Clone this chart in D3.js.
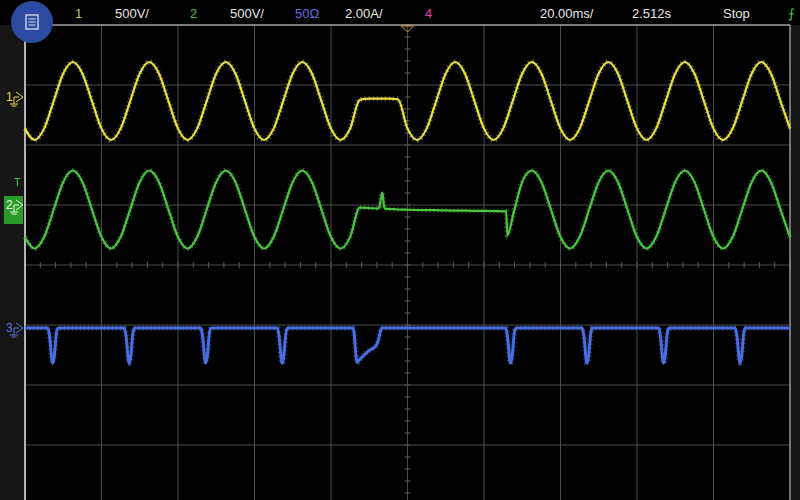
<!DOCTYPE html>
<html><head><meta charset="utf-8">
<script src="https://cdn.jsdelivr.net/npm/d3@7"></script>
<style>body{margin:0;background:#000;overflow:hidden}text{font-family:"Liberation Sans",Arial,sans-serif}</style>
</head><body><svg id="c" width="800" height="500"></svg>
<script>
// ---- data ----
const timeStepMs = 2.5;
const ch1Volts = [-230,-325,-230,0,230,325,230,0, -230,-325,-230,0,230,325,230,0, -230,-325,-230,0,230,325,230,0,
  -230,-325,-230,0,230,325,230,0, -230,-325,-230,10,20,20,20,15, -230,-325,-230,0,230,325,230,0,
  -230,-325,-230,0,230,325,230,0, -230,-325,-230,0,230,325,230,0, -230,-325,-230,0,230,325,230,0,
  -230,-325,-230,0,230,325,230,0, -230];
const ch2Time = [-100,-97.5,-95,-92.5,-90,-87.5,-85,-82.5,-80,-77.5,-75,-72.5,-70,-67.5,-65,-62.5,-60,-57.5,-55,-52.5,
  -50,-47.5,-45,-42.5,-40,-37.5,-35,-32.5,-30,-27.5,-25,-22.5,-20,-17.5,-15,-12.5,-10,-7.5,-6.6,-6.0,-5,-2.5,0,
  2.5,5,7.5,10,12.5,15,17.5,20,22.5,25.8,26.1,27.8,30,32.5,35,37.5,40,42.5,45,47.5,50,52.5,55,57.5,60,62.5,65,67.5,
  70,72.5,75,77.5,80,82.5,85,87.5,90,92.5,95,97.5,100];
const ch2Volts = [-230,-325,-230,0,230,325,230,0, -230,-325,-230,0,230,325,230,0, -230,-325,-230,0,230,325,230,0,
  -230,-325,-230,0,230,325,230,0, -230,-325,-230,15,12,8,140,8,5,0,-2,-4,-5,-6,-8,-9,-10,-11,-12,-13,-15,-215,
  -20,230,325,230,0,-230,-325,-230,0,230,325,230,0,-230,-325,-230,0,230,325,230,0,-230,-325,-230,0,230,325,230,0,-230];
const ch3Time = [-100,-94,-93.6,-92.8,-92.4,-91.7,-91.3,-74,-73.6,-72.8,-72.4,-71.7,-71.3,-54,-53.6,-52.8,-52.4,-51.7,-51.3,
  -34,-33.6,-32.8,-32.4,-31.7,-31.3,-14.2,-13.2,-12.5,-10,-8.3,-7.6,-6.8,
  25.7,26.1,26.9,27.3,28,28.4,45.7,46.1,46.9,47.3,48,48.4,65.7,66.1,66.9,67.3,68,68.4,85.7,86.1,86.9,87.3,88,88.4,100];
const ch3Amps = [0,0,-0.25,-1.17,-1.0,-0.1,0,0,-0.25,-1.17,-1.0,-0.1,0,0,-0.25,-1.17,-1.0,-0.1,0,
  0,-0.25,-1.17,-1.0,-0.1,0,0,-1.15,-1.05,-0.75,-0.6,-0.4,0,
  0,-0.25,-1.17,-1.0,-0.1,0,0,-0.25,-1.17,-1.0,-0.1,0,0,-0.25,-1.17,-1.0,-0.1,0,0,-0.25,-1.17,-1.0,-0.1,0,0];
const headerLabels = [["1","#c8c860",75],["500V/","#e8e8e8",115],["2","#50c040",190],["500V/","#e8e8e8",230],
  ["50Ω","#6a6ae0",295],["2.00A/","#e8e8e8",345],["4","#e040b0",425],["20.00ms/","#e8e8e8",540],
  ["2.512s","#e8e8e8",632],["Stop","#e8e8e8",723]];
// ---- layout ----
const svg = d3.select("#c");
const L=25,R=790,T=25,B=505;
const x = d3.scaleLinear().domain([-100,100]).range([L,R]);
const y = d3.scaleLinear().domain([4,-4]).range([T,B]);
svg.append("rect").attr("width",800).attr("height",500).attr("fill","#000");
svg.append("rect").attr("x",0).attr("y",25).attr("width",L).attr("height",475).attr("fill","#161616");
svg.append("rect").attr("x",R).attr("y",25).attr("width",10).attr("height",475).attr("fill","#161616");
svg.append("rect").attr("x",L).attr("y",T).attr("width",R-L).attr("height",475).attr("fill","#000");
const g = svg.append("g");
d3.range(-100,101,20).forEach(t=>g.append("line").attr("x1",x(t)).attr("x2",x(t)).attr("y1",T).attr("y2",500).attr("stroke","#4a4a4a").attr("stroke-width",1));
d3.range(-4,5,1).forEach(v=>g.append("line").attr("x1",L).attr("x2",R).attr("y1",y(v)).attr("y2",y(v)).attr("stroke","#4a4a4a").attr("stroke-width",1));
d3.range(-100,101,4).forEach(t=>g.append("line").attr("x1",x(t)).attr("x2",x(t)).attr("y1",y(0)-3).attr("y2",y(0)+3).attr("stroke","#5a5a5a"));
d3.range(-4,4.01,0.2).forEach(v=>g.append("line").attr("x1",x(0)-3).attr("x2",x(0)+3).attr("y1",y(v)).attr("y2",y(v)).attr("stroke","#5a5a5a"));
svg.append("line").attr("x1",L).attr("x2",R).attr("y1",T).attr("y2",T).attr("stroke","#d0d0d0");
svg.append("line").attr("x1",L).attr("x2",L).attr("y1",T).attr("y2",500).attr("stroke","#e0e0e0").attr("stroke-width",1.5);
svg.append("line").attr("x1",R).attr("x2",R).attr("y1",T).attr("y2",500).attr("stroke","#bbb");
// traces
const off1=2.733, off2=0.925, off3=(265-328)/60;
const line = d3.line().curve(d3.curveMonotoneX);
function trace(pts,color,w){
  svg.append("path").attr("d",line(pts)).attr("fill","none").attr("stroke",color).attr("stroke-width",w).attr("stroke-linejoin","round");
  svg.append("path").attr("d",line(pts)).attr("fill","none").attr("stroke",color).attr("stroke-width",w+3).attr("stroke-dasharray","1,3").attr("opacity",0.5);
}
trace(ch1Volts.map((v,i)=>[x(-100+i*timeStepMs),y(off1+v/500)]),"#e8e040",2.2);
trace(ch2Time.map((t,i)=>[x(t),y(off2+ch2Volts[i]/500)]),"#4cc840",2.2);
trace(ch3Time.map((t,i)=>[x(t),y(off3+ch3Amps[i]/2)]),"#4a6ee0",3);
// header
headerLabels.forEach(([s,c,px])=>svg.append("text").attr("x",px).attr("y",18).attr("fill",c).attr("font-size",13).text(s));
svg.append("text").attr("x",788).attr("y",18).attr("fill","#4cc840").attr("font-size",13).text("⨍");
svg.append("path").attr("d",`M${x(0)-6},26 L${x(0)+6},26 L${x(0)},32 Z`).attr("fill","none").attr("stroke","#e0a030");
// menu button
svg.append("circle").attr("cx",32).attr("cy",22).attr("r",21).attr("fill","#2c4aa0");
svg.append("rect").attr("x",26).attr("y",15).attr("width",12).attr("height",14).attr("fill","none").attr("stroke","#dde").attr("stroke-width",1.3);
[19,22,25].forEach(yy=>svg.append("line").attr("x1",28.5).attr("x2",35.5).attr("y1",yy).attr("y2",yy).attr("stroke","#dde"));
// channel markers
function marker(label,yy,c){
  svg.append("text").attr("x",6).attr("y",yy+4).attr("fill",c).attr("font-size",12).text(label);
  svg.append("path").attr("d",`M14,${yy} L19,${yy} M16,${yy-5} L23,${yy} L16,${yy+5} M14,${yy} L14,${yy+7} M10,${yy+7} L18,${yy+7} M11.5,${yy+9} L16.5,${yy+9}`).attr("stroke",c).attr("fill","none");
}
marker("1",97,"#e0d840");
svg.append("rect").attr("x",4).attr("y",196).attr("width",19).attr("height",28).attr("fill","#2a9a2a");
marker("2",205,"#e8ffe0");
svg.append("text").attr("x",14).attr("y",186).attr("fill","#4cc840").attr("font-size",11).text("T");
marker("3",328,"#5a70e0");
</script></body></html>
